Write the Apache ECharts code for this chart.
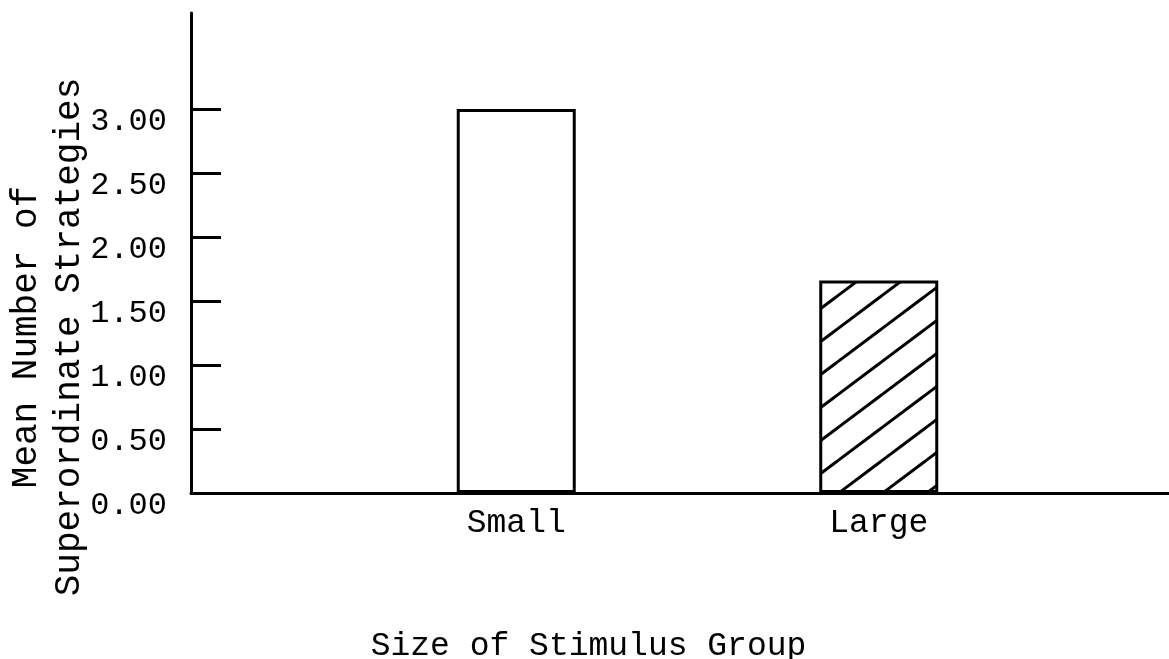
<!DOCTYPE html>
<html>
<head>
<meta charset="utf-8">
<title>Superordinate Strategies</title>
<script src="https://cdn.jsdelivr.net/npm/echarts@6/dist/echarts.min.js"></script>
<style>
  html, body { margin: 0; padding: 0; background: #fff; }
  #chart { width: 1169px; height: 659px; }
</style>
</head>
<body>
<div id="chart"></div>
<script>
// data
let categories = ['Small', 'Large'];
let means = [3.0, 1.66];
let yTicks = [0, 0.5, 1.0, 1.5, 2.0, 2.5, 3.0];
let yMax = 3.75;

let font = 'Liberation Mono';

// diagonal hatching for the "Large" bar
function hatchTile () {
  let w = 44, h = 33;
  let c = document.createElement('canvas');
  c.width = w;
  c.height = h;
  let ctx = c.getContext('2d');
  ctx.fillStyle = '#fff';
  ctx.fillRect(0, 0, w, h);
  ctx.strokeStyle = '#000';
  ctx.lineWidth = 3;
  [-w, 0, w].forEach(function (dx) {
    ctx.beginPath();
    ctx.moveTo(dx - w, 2 * h);
    ctx.lineTo(dx + 2 * w, -h);
    ctx.stroke();
  });
  return c;
}

let chart = echarts.init(document.getElementById('chart'));

chart.setOption({
  backgroundColor: '#fff',
  animation: false,
  textStyle: { fontFamily: font, color: '#000' },
  grid: [
    // frame: y axis and baseline
    { left: 191, right: 0, top: 13, bottom: 166, outerBoundsMode: 'none', containLabel: false },
    // bars
    { left: 335, right: 109, top: 13, bottom: 166, outerBoundsMode: 'none', containLabel: false }
  ],
  xAxis: [
    {
      gridIndex: 0,
      type: 'category',
      data: [],
      axisLine: { show: true, lineStyle: { color: '#000', width: 3 } },
      axisTick: { show: false },
      axisLabel: { show: false }
    },
    {
      gridIndex: 1,
      type: 'category',
      data: categories,
      axisLine: { show: false },
      axisTick: { show: false },
      axisLabel: { fontFamily: font, fontSize: 33, color: '#000', margin: 14 },
      name: 'Size of Stimulus Group',
      nameLocation: 'middle',
      nameGap: 137,
      nameMoveOverlap: false,
      nameTextStyle: { fontFamily: font, fontSize: 33, color: '#000', padding: [0, 218, 0, 0] }
    }
  ],
  yAxis: [
    {
      gridIndex: 0,
      type: 'value',
      min: 0,
      max: yMax,
      splitLine: { show: false },
      axisLine: { show: true, lineStyle: { color: '#000', width: 3 } },
      axisTick: {
        show: true,
        inside: true,
        length: 30,
        customValues: yTicks,
        lineStyle: { color: '#000', width: 3 }
      },
      axisLabel: {
        customValues: yTicks,
        fontFamily: font,
        fontSize: 32,
        color: '#000',
        margin: 24,
        verticalAlign: 'top',
        padding: [-3, 0, 0, 0],
        formatter: function (v) { return v.toFixed(2); }
      },
      name: 'Mean Number of\nSuperordinate Strategies',
      nameLocation: 'middle',
      nameRotate: 90,
      nameGap: 100,
      nameMoveOverlap: false,
      nameTextStyle: {
        fontFamily: font,
        fontSize: 36,
        color: '#000',
        lineHeight: 43,
        padding: [0, 168, 0, 0]
      }
    },
    {
      gridIndex: 1,
      type: 'value',
      min: 0,
      max: yMax,
      show: false
    }
  ],
  series: [
    {
      type: 'bar',
      xAxisIndex: 1,
      yAxisIndex: 1,
      barWidth: 119,
      data: means.map(function (v, i) {
        return {
          value: v,
          itemStyle: {
            color: i === 1 ? { image: hatchTile(), repeat: 'repeat' } : '#fff',
            borderColor: '#000',
            borderWidth: 3
          }
        };
      })
    }
  ]
});
</script>
</body>
</html>
